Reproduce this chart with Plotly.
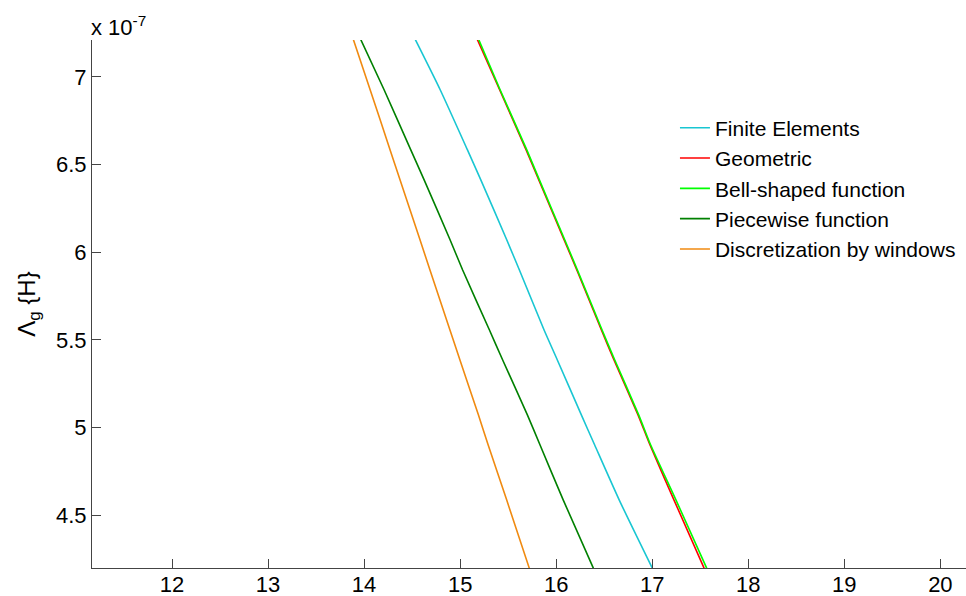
import plotly.graph_objects as go

# Lambda_g levels (units of 1e-7 H) at which each curve was read
lam_levels = [7.213, 6.928, 6.585, 6.414, 6.071, 5.900, 5.558, 5.386, 5.073, 4.901, 4.587, 4.199]

# x positions of each curve at those levels
x_finite = [14.533, 14.791, 15.075, 15.214, 15.485, 15.616, 15.873, 16.012, 16.262, 16.401, 16.657, 17.001]
x_geometric = [15.179, 15.410, 15.686, 15.818, 16.082, 16.214, 16.470, 16.602, 16.852, 16.977, 17.227, 17.540]
x_bell = [15.193, 15.415, 15.693, 15.824, 16.089, 16.220, 16.477, 16.610, 16.859, 16.984, 17.248, 17.567]
x_piecewise = [13.965, 14.207, 14.485, 14.624, 14.895, 15.025, 15.304, 15.443, 15.700, 15.832, 16.074, 16.387]
x_windows = [13.888, 14.062, 14.270, 14.374, 14.582, 14.685, 14.893, 14.998, 15.190, 15.292, 15.485, 15.720]

series_names = ["Finite Elements", "Geometric", "Bell-shaped function",
                "Piecewise function", "Discretization by windows"]
series_x = [x_finite, x_geometric, x_bell, x_piecewise, x_windows]
series_colors = ["#19C6D2", "#FF0000", "#00FF00", "#008000", "#F08A10"]

x_ticks = [12, 13, 14, 15, 16, 17, 18, 19, 20]
y_ticks = [4.5, 5, 5.5, 6, 6.5, 7]
y_ticktext = ["4.5", "5", "5.5", "6", "6.5", "7"]

FONT = "Liberation Sans, Arial, sans-serif"

fig = go.Figure()
for name, xs, col in zip(series_names, series_x, series_colors):
    fig.add_trace(go.Scatter(x=xs, y=lam_levels, mode="lines", name=name,
                             line=dict(color=col, width=1.6, shape="spline", smoothing=0.6)))

fig.update_layout(
    width=966, height=596,
    margin=dict(l=92, r=0, t=40, b=28),
    paper_bgcolor="white", plot_bgcolor="white",
    font=dict(family=FONT, size=22, color="black"),
    showlegend=True,
    legend=dict(x=0.667, y=0.872, xanchor="left", yanchor="top",
                bgcolor="rgba(0,0,0,0)", borderwidth=0,
                font=dict(family=FONT, size=21, color="black"),
                itemwidth=30, tracegroupgap=0),
)
fig.update_xaxes(range=[11.167, 20.267], tickvals=x_ticks, ticks="inside", ticklen=9,
                 tickcolor="#444", showline=True, linecolor="#444", linewidth=1,
                 showgrid=False, zeroline=False, tickfont=dict(size=22),
                 ticklabelstandoff=-3, automargin=False)
fig.update_yaxes(range=[4.2, 7.21], tickvals=y_ticks, ticktext=y_ticktext,
                 ticks="inside", ticklen=9, tickcolor="#444",
                 showline=True, linecolor="#444", linewidth=1,
                 showgrid=False, zeroline=False, tickfont=dict(size=22),
                 automargin=False,
                 title=dict(text="Λ<sub>g</sub> {H}", font=dict(size=24), standoff=13))

fig.add_annotation(text="x 10<sup>-7</sup>", xref="paper", yref="paper",
                   x=0, y=1, xanchor="left", yanchor="bottom", showarrow=False,
                   font=dict(family=FONT, size=22, color="black"), xshift=-3, yshift=-2)

fig.write_html("out.html", config={"displayModeBar": False},
               post_script="document.body.style.margin='0';document.body.style.overflow='hidden';")
